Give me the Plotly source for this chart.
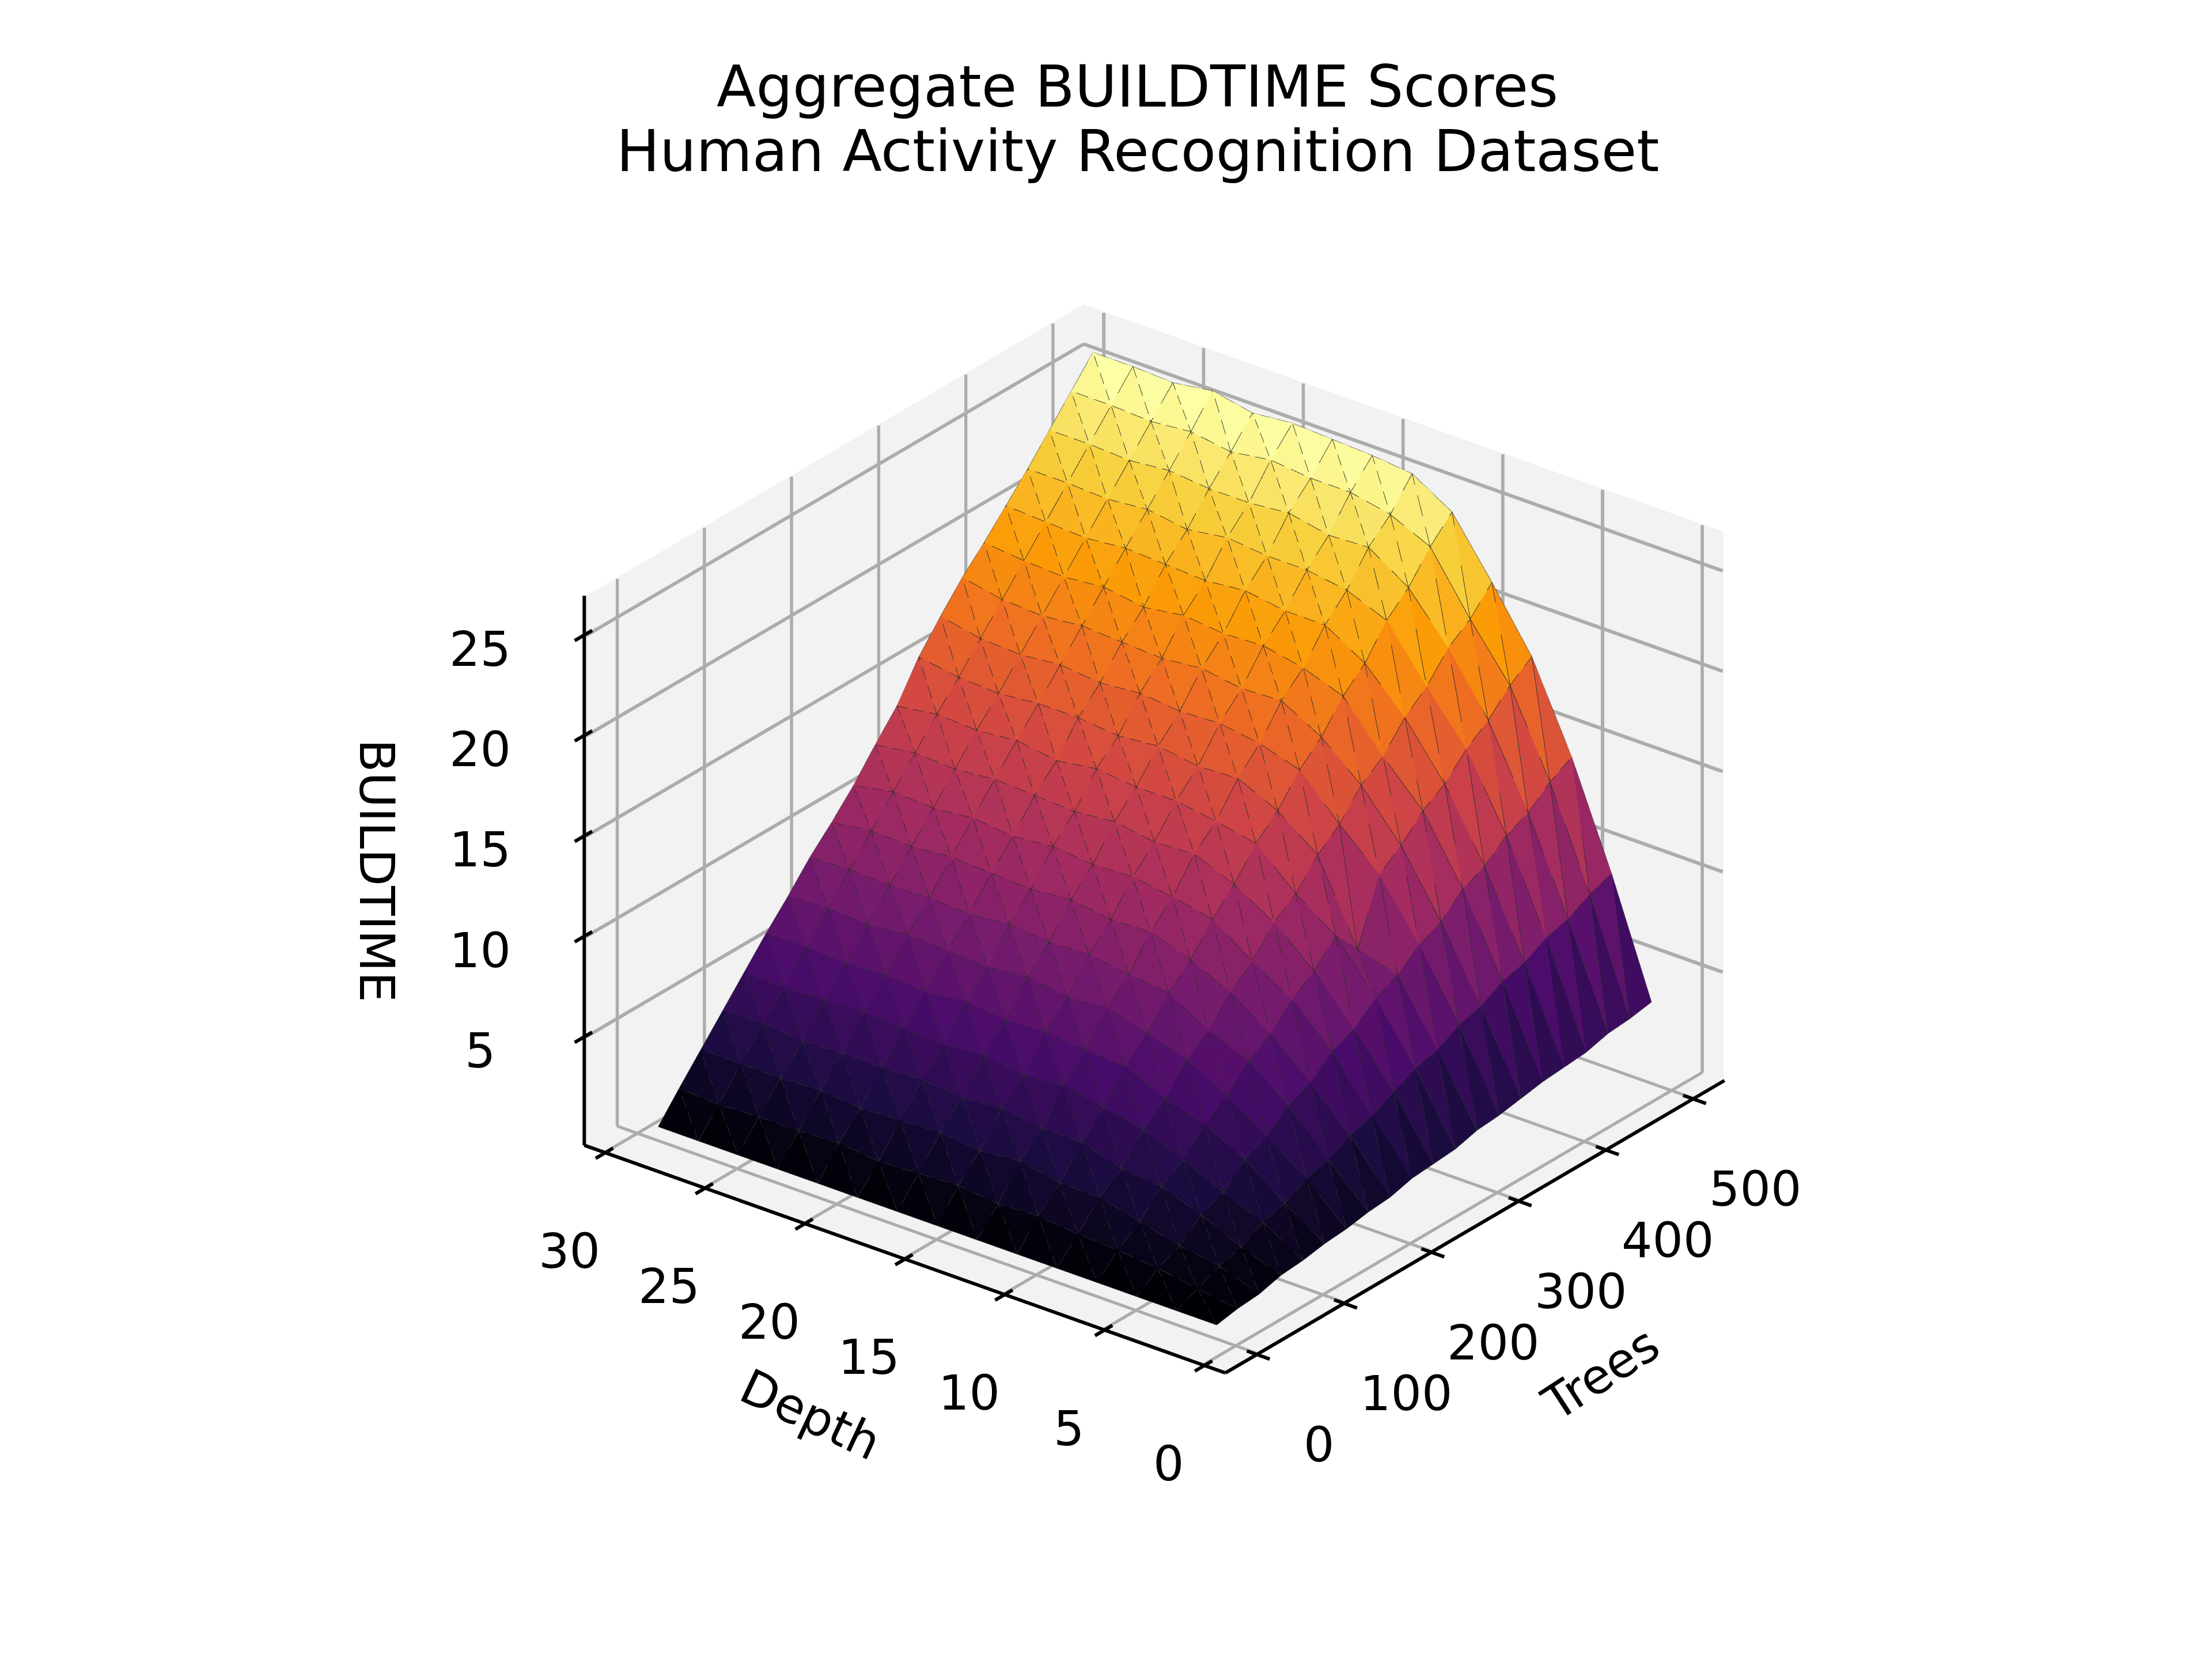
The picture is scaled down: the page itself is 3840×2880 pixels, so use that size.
import numpy as np
import plotly.graph_objects as go

# grid
depths = [1, 3, 5, 7, 9, 11, 13, 15, 17, 19, 21, 23, 25, 27, 29]
trees = [1, 25, 50, 75, 100, 125, 150, 175, 200, 225, 250,
         275, 300, 325, 350, 375, 400, 425, 450, 475, 500]

# BUILDTIME, one row per depth, one column per tree count
buildtime = [
    [0.3, 0.5, 0.6, 0.9, 1.0, 1.2, 1.3, 1.5, 1.6, 1.9, 2.0, 2.1, 2.4, 2.5, 2.7, 2.9, 3.0, 3.1, 3.4, 3.5, 3.7],
    [0.3, 0.8, 1.3, 1.6, 2.2, 2.5, 3.1, 3.4, 4.0, 4.3, 4.9, 5.4, 5.7, 6.3, 6.6, 7.2, 7.5, 8.1, 8.4, 9.0, 9.4],
    [0.3, 1.1, 1.6, 2.5, 3.0, 4.0, 4.5, 5.4, 5.9, 6.8, 7.3, 8.2, 8.7, 9.6, 10.1, 11.1, 11.6, 12.5, 13.0, 13.9, 14.5],
    [0.3, 1.3, 2.1, 3.2, 3.9, 5.0, 5.8, 6.9, 7.6, 8.7, 9.5, 10.6, 9.3, 12.4, 13.2, 14.3, 15.0, 16.1, 16.9, 18.0, 18.8],
    [0.3, 1.4, 2.6, 3.4, 4.7, 5.6, 6.9, 7.7, 9.0, 9.9, 11.2, 12.0, 13.3, 14.2, 15.5, 16.3, 17.6, 18.5, 19.8, 20.6, 21.8],
    [0.3, 1.6, 2.6, 4.0, 5.1, 6.5, 7.5, 8.9, 9.9, 11.3, 12.4, 13.8, 14.8, 16.2, 17.2, 18.6, 19.6, 21.1, 22.1, 23.5, 24.6],
    [0.3, 1.5, 3.0, 4.0, 5.5, 6.6, 8.1, 9.1, 10.6, 11.7, 13.2, 14.2, 15.7, 16.8, 18.3, 19.3, 20.8, 21.9, 23.4, 24.4, 25.8],
    [0.3, 1.7, 2.8, 4.3, 5.3, 6.8, 7.9, 9.4, 10.5, 12.0, 13.1, 14.5, 15.6, 17.1, 18.2, 19.7, 20.8, 22.2, 23.3, 24.8, 26.0],
    [0.3, 1.6, 3.0, 4.1, 5.6, 6.7, 8.2, 9.3, 10.8, 11.9, 13.4, 14.5, 15.9, 17.0, 18.5, 19.6, 21.1, 22.2, 23.7, 24.8, 26.1],
    [0.3, 1.5, 2.9, 4.3, 5.4, 6.9, 8.0, 9.5, 10.6, 12.1, 13.2, 14.7, 15.7, 17.2, 18.3, 19.8, 20.9, 22.4, 23.5, 25.0, 26.2],
    [0.3, 1.7, 2.8, 4.2, 5.5, 6.7, 8.1, 9.3, 10.7, 11.9, 13.3, 14.4, 15.9, 17.0, 18.4, 19.5, 21.0, 22.1, 23.5, 24.7, 26.0],
    [0.3, 1.6, 3.0, 4.2, 5.6, 6.8, 8.2, 9.4, 10.8, 12.1, 13.4, 14.7, 15.9, 17.2, 18.5, 19.8, 21.1, 22.4, 23.7, 25.0, 26.4],
    [0.3, 1.6, 2.9, 4.1, 5.5, 6.7, 8.0, 9.3, 10.6, 11.9, 13.2, 14.5, 15.7, 17.0, 18.3, 19.6, 20.9, 22.2, 23.5, 24.8, 26.1],
    [0.3, 1.5, 2.9, 4.3, 5.4, 6.8, 8.1, 9.4, 10.7, 12.0, 13.3, 14.6, 15.8, 17.1, 18.4, 19.7, 21.0, 22.3, 23.6, 24.9, 26.2],
    [0.3, 1.6, 2.9, 4.2, 5.5, 6.8, 8.0, 9.3, 10.4, 11.6, 13.0, 14.3, 16.1, 17.5, 18.8, 19.9, 21.1, 22.3, 23.6, 24.9, 26.2],
]

title_lines = ["Aggregate BUILDTIME Scores", "Human Activity Recognition Dataset"]
tree_ticks = [0, 100, 200, 300, 400, 500]
depth_ticks = [0, 5, 10, 15, 20, 25, 30]
time_ticks = [5, 10, 15, 20, 25]

FONT = "DejaVu Sans"
W, H = 3840, 2880
T_RNG = [-36, 536]
D_RNG = [-1.05, 31.05]
Z_RNG = [-0.4, 26.95]
Z_ASPECT = 0.76
EYE = np.array([-1.404, -1.093, 0.912])
GRID = "rgb(172,172,172)"

# --- mapping from data space to page pixels (orthographic camera below) ---
fwd = -EYE / np.linalg.norm(EYE)
right = np.cross(fwd, [0, 0, 1])
right = right / np.linalg.norm(right)
upv = np.cross(right, fwd)
SCALE = 2820 / np.linalg.norm(EYE)
CX, CY = 1996, 1447
SPANS = np.array([T_RNG[1] - T_RNG[0], D_RNG[1] - D_RNG[0], (Z_RNG[1] - Z_RNG[0]) / Z_ASPECT])


def to_paper(t, d, z):
    p = np.array([t - sum(T_RNG) / 2, d - sum(D_RNG) / 2, z - sum(Z_RNG) / 2]) / SPANS
    px = CX + SCALE * p.dot(right)
    py = CY - SCALE * p.dot(upv)
    return px / W, 1 - py / H


def segments(segs, color, width):
    xs, ys, zs = [], [], []
    for a, b in segs:
        xs += [round(float(a[0]), 3), round(float(b[0]), 3), None]
        ys += [round(float(a[1]), 3), round(float(b[1]), 3), None]
        zs += [round(float(a[2]), 3), round(float(b[2]), 3), None]
    return go.Scatter3d(x=xs, y=ys, z=zs, mode="lines",
                        line=dict(color=color, width=width),
                        hoverinfo="skip", showlegend=False)


# triangulate the grid like plot_trisurf does
T, D = np.meshgrid(trees, depths)
Z = np.array(buildtime)
nr, nc = Z.shape
ii, jj, kk = [], [], []
for r in range(nr - 1):
    for c in range(nc - 1):
        a = r * nc + c
        b = a + 1
        e = a + nc
        f = e + 1
        ii += [a, a]
        jj += [b, f]
        kk += [f, e]
xf, yf, zf = T.ravel(), D.ravel(), Z.ravel()
face_z = (zf[ii] + zf[jj] + zf[kk]) / 3.0

fig = go.Figure()

# pane grid lines, drawn behind the surface
t0, t1 = T_RNG[0] + 0.5, T_RNG[1] - 0.5
d0, d1 = D_RNG[0] + 0.03, D_RNG[1] - 0.03
z0, z1 = Z_RNG[0] + 0.03, Z_RNG[1] - 0.03
grid = []
for k in depth_ticks:
    grid.append(((t0, k, z0), (t1, k, z0)))
    grid.append(((t1, k, z0), (t1, k, z1)))
for k in tree_ticks:
    grid.append(((k, d0, z0), (k, d1, z0)))
    grid.append(((k, d1, z0), (k, d1, z1)))
for k in time_ticks:
    grid.append(((t0, d1, k), (t1, d1, k)))
    grid.append(((t1, d0, k), (t1, d1, k)))
fig.add_trace(segments(grid, GRID, 11))

fig.add_trace(go.Mesh3d(
    x=xf, y=yf, z=zf,
    i=ii, j=jj, k=kk,
    intensity=face_z, intensitymode="cell",
    colorscale="Inferno", cmin=face_z.min(), cmax=face_z.max(),
    showscale=False, flatshading=True,
    lighting=dict(ambient=1.0, diffuse=0.0, specular=0.0, roughness=1.0, fresnel=0.0),
    hoverinfo="skip",
))

# thin triangle edges, moved toward the camera (no shift on screen) so they sit on the faces
nudge = [float(v) for v in (-fwd * 0.01 * SPANS)]
edges = []
for a, b, c in zip(ii, jj, kk):
    for p, q in ((a, b), (b, c), (c, a)):
        edges.append(((xf[p] + nudge[0], yf[p] + nudge[1], zf[p] + nudge[2]),
                      (xf[q] + nudge[0], yf[q] + nudge[1], zf[q] + nudge[2])))
fig.add_trace(segments(edges, "rgba(25,25,25,0.55)", 2))


def axis_style(rng):
    return dict(
        range=rng, title=dict(text=""), showticklabels=False, ticks="",
        showbackground=True, backgroundcolor="rgb(242,242,242)",
        showgrid=False, showline=False, zeroline=False, showspikes=False,
    )


fig.update_layout(
    width=W, height=H,
    margin=dict(l=0, r=0, t=0, b=0),
    paper_bgcolor="white",
    font=dict(family=FONT, color="black"),
    scene=dict(
        domain=dict(x=[0.0396, 1.0], y=[0.00857, 0.98657]),
        xaxis=axis_style(T_RNG),
        yaxis=axis_style(D_RNG),
        zaxis=axis_style(Z_RNG),
        aspectmode="manual",
        aspectratio=dict(x=1, y=1, z=Z_ASPECT),
        camera=dict(
            eye=dict(x=EYE[0], y=EYE[1], z=EYE[2]),
            center=dict(x=0, y=0, z=0),
            up=dict(x=0, y=0, z=1),
            projection=dict(type="orthographic"),
        ),
    ),
    showlegend=False,
)


def line_shape(p, q, width=6):
    x0, y0 = to_paper(*p)
    x1, y1 = to_paper(*q)
    fig.add_shape(type="line", xref="paper", yref="paper", x0=x0, y0=y0, x1=x1, y1=y1,
                  line=dict(color="black", width=width))


def label(text, pos, size=84, angle=0):
    x, y = to_paper(*pos)
    fig.add_annotation(text=text, x=x, y=y, xref="paper", yref="paper",
                       xanchor="center", yanchor="middle", showarrow=False,
                       textangle=angle, font=dict(family=FONT, size=size, color="black"))


# axis lines
line_shape((T_RNG[0], D_RNG[0], Z_RNG[0]), (T_RNG[0], D_RNG[1], Z_RNG[0]))
line_shape((T_RNG[0], D_RNG[0], Z_RNG[0]), (T_RNG[1], D_RNG[0], Z_RNG[0]))
line_shape((T_RNG[0], D_RNG[1], Z_RNG[0]), (T_RNG[0], D_RNG[1], Z_RNG[1]))

# ticks and tick labels
for k in depth_ticks:
    line_shape((T_RNG[0] - 11, k, Z_RNG[0]), (T_RNG[0] + 9, k, Z_RNG[0]))
    label(str(k), (T_RNG[0] - 41, k, Z_RNG[0] - 3.85))
for k in tree_ticks:
    line_shape((k, D_RNG[0] - 0.65, Z_RNG[0]), (k, D_RNG[0] + 0.5, Z_RNG[0]))
    label(str(k), (k, D_RNG[0] - 3.1, Z_RNG[0] - 3.4))
for k in time_ticks:
    line_shape((T_RNG[0] - 11, D_RNG[1], k), (T_RNG[0] + 9, D_RNG[1], k))
    label(str(k), (T_RNG[0] - 62, D_RNG[1] + 2.5, k))

# axis titles
label("Depth", (T_RNG[0] - 108, 15, Z_RNG[0] - 5.0), angle=25)
label("Trees", (250, D_RNG[0] - 6.3, Z_RNG[0] - 5.1), angle=-33)
label("BUILDTIME", (T_RNG[0] - 89, D_RNG[1] + 6.5, 13.25), angle=90)

for n, line in enumerate(title_lines):
    fig.add_annotation(
        text=line, x=0.5122, y=[0.9505, 0.9115][n], xref="paper", yref="paper",
        xanchor="center", yanchor="middle", showarrow=False,
        font=dict(family=FONT, size=100, color="black"),
    )

fig.write_html("out.html")
